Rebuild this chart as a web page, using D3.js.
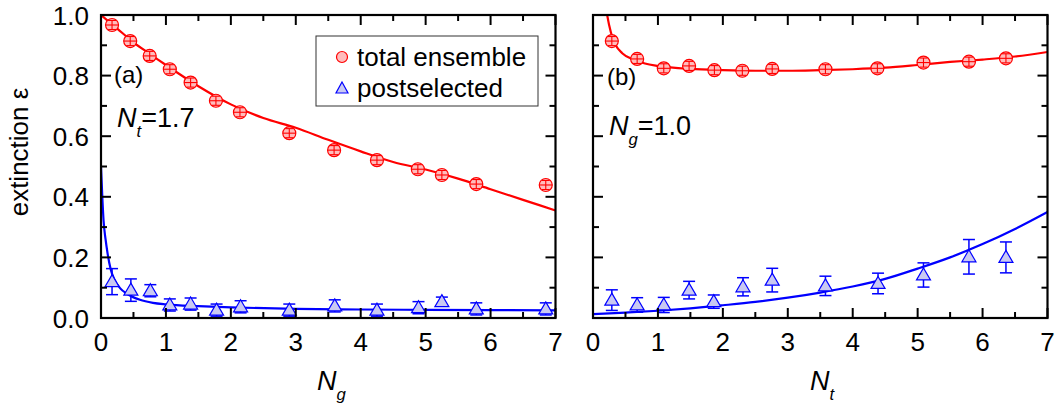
<!DOCTYPE html>
<html><head><meta charset="utf-8">
<script src="https://cdn.jsdelivr.net/npm/d3@7"></script>
<style>
body{margin:0;background:#fff;}
text{font-family:"Liberation Sans",Arial,Helvetica,sans-serif;}
</style></head>
<body><svg id="c" width="1057" height="403"></svg>
<script>
// ---------- Data ----------
// Panel (a): extinction vs N_g at N_t = 1.7
const ngRedA   = [0.17,0.45,0.75,1.06,1.38,1.77,2.14,2.90,3.59,4.25,4.88,5.25,5.78,6.85];
const epsRedA  = [0.967,0.914,0.865,0.821,0.777,0.717,0.679,0.610,0.554,0.521,0.491,0.472,0.442,0.439];
const errRedA  = [0.015,0.015,0.015,0.015,0.015,0.015,0.015,0.015,0.015,0.015,0.015,0.015,0.015,0.015];
const ngBlueA  = [0.17,0.46,0.76,1.06,1.38,1.78,2.15,2.90,3.60,4.25,4.89,5.25,5.78,6.85];
const epsBlueA = [0.120,0.092,0.090,0.043,0.046,0.026,0.037,0.026,0.040,0.026,0.034,0.054,0.030,0.030];
const errBlueA = [0.043,0.037,0.020,0.020,0.020,0.020,0.020,0.020,0.020,0.020,0.020,0.015,0.020,0.020];
const fitNgRedA  = [0,0.25,0.5,0.75,1,1.5,2,2.5,3,3.5,4,4.5,5,5.5,6,6.5,7];
const fitRedA    = [1.0,0.955,0.91,0.872,0.835,0.765,0.705,0.66,0.628,0.588,0.55,0.515,0.49,0.46,0.425,0.39,0.355];
const fitNgBlueA = [0,0.02,0.04,0.07,0.1,0.15,0.2,0.3,0.4,0.6,0.8,1,1.5,2,3,4,5,6,7];
const fitBlueA   = [0.5,0.4,0.32,0.26,0.215,0.16,0.13,0.097,0.08,0.06,0.05,0.045,0.039,0.035,0.03,0.028,0.027,0.026,0.025];

// Panel (b): extinction vs N_t at N_g = 1.0
const ntRedB   = [0.29,0.68,1.09,1.48,1.87,2.30,2.76,3.58,4.38,5.09,5.79,6.36];
const epsRedB  = [0.914,0.855,0.824,0.832,0.818,0.816,0.822,0.821,0.824,0.843,0.846,0.857];
const errRedB  = [0.015,0.015,0.015,0.015,0.015,0.015,0.015,0.015,0.015,0.015,0.015,0.015];
const ntBlueB  = [0.29,0.68,1.09,1.48,1.86,2.31,2.76,3.58,4.39,5.09,5.79,6.36];
const epsBlueB = [0.059,0.043,0.043,0.092,0.054,0.103,0.125,0.106,0.114,0.142,0.202,0.200];
const errBlueB = [0.034,0.024,0.025,0.029,0.022,0.030,0.039,0.032,0.034,0.040,0.057,0.051];
const fitNtRedB  = [0.21,0.25,0.3,0.35,0.45,0.6,0.8,1.0,1.5,2,2.5,3,3.5,4,4.5,5,5.5,6,6.5,7];
const fitRedB    = [1.01,0.965,0.925,0.9,0.874,0.855,0.84,0.832,0.822,0.818,0.816,0.816,0.818,0.821,0.826,0.835,0.845,0.853,0.863,0.878];
const fitNtBlueB = [0,0.5,1,1.5,2,2.5,3,3.5,4,4.5,5,5.5,6,6.5,7];
const fitBlueB   = [0.013,0.018,0.024,0.032,0.042,0.053,0.067,0.084,0.104,0.129,0.163,0.2,0.244,0.294,0.35];

const xTicks = [0,1,2,3,4,5,6,7];
const yTicks = [0.0,0.2,0.4,0.6,0.8,1.0];
const legendLabels = ["total ensemble","postselected"];

// ---------- Drawing ----------
const svg = d3.select("#c");
const RED="#ff0000", BLUE="#0000ff", REDFILL="#ffbcbc", BLUEFILL="#c9c9f2";
const yTop=15, yBot=318;
const y = d3.scaleLinear().domain([0,1]).range([yBot,yTop]);

function panel(id, x0, x1, showYLabels, d){
  const x = d3.scaleLinear().domain([0,7]).range([x0,x1]);
  const g = svg.append("g");
  g.append("clipPath").attr("id","clip"+id).append("rect")
    .attr("x",x0).attr("y",yTop).attr("width",x1-x0).attr("height",yBot-yTop);
  const plot = g.append("g").attr("clip-path","url(#clip"+id+")");
  const line = d3.line().x(p=>x(p[0])).y(p=>y(p[1])).curve(d3.curveMonotoneX);
  plot.append("path").datum(d3.zip(d.fxR,d.fyR)).attr("d",line)
    .attr("fill","none").attr("stroke",RED).attr("stroke-width",2.2);
  plot.append("path").datum(d3.zip(d.fxB,d.fyB)).attr("d",line)
    .attr("fill","none").attr("stroke",BLUE).attr("stroke-width",2.2);

  // blue triangles with error bars
  d.xB.forEach((v,i)=>{
    const cx=x(v), cy=y(d.yB[i]);
    const yt=y(d.yB[i]+d.eB[i]), yb=y(d.yB[i]-d.eB[i]);
    const eg = g.append("g").attr("stroke",BLUE).attr("stroke-width",1.5);
    eg.append("line").attr("x1",cx).attr("x2",cx).attr("y1",yt).attr("y2",yb);
    eg.append("line").attr("x1",cx-6).attr("x2",cx+6).attr("y1",yt).attr("y2",yt);
    eg.append("line").attr("x1",cx-6).attr("x2",cx+6).attr("y1",yb).attr("y2",yb);
    g.append("path").attr("d",`M${cx},${cy-7}L${cx+7},${cy+5}L${cx-7},${cy+5}Z`)
      .attr("fill",BLUEFILL).attr("stroke",BLUE).attr("stroke-width",1.2);
  });
  // red circles with error bars
  d.xR.forEach((v,i)=>{
    const cx=x(v), cy=y(d.yR[i]);
    const yt=y(d.yR[i]+d.eR[i]), yb=y(d.yR[i]-d.eR[i]);
    g.append("circle").attr("cx",cx).attr("cy",cy).attr("r",6.5)
      .attr("fill",REDFILL).attr("stroke",RED).attr("stroke-width",1.2);
    const eg = g.append("g").attr("stroke",RED).attr("stroke-width",1.1);
    eg.append("line").attr("x1",cx).attr("x2",cx).attr("y1",yt).attr("y2",yb);
    eg.append("line").attr("x1",cx-4).attr("x2",cx+4).attr("y1",yt).attr("y2",yt);
    eg.append("line").attr("x1",cx-4).attr("x2",cx+4).attr("y1",yb).attr("y2",yb);
    eg.append("line").attr("x1",cx-6.5).attr("x2",cx+6.5).attr("y1",cy).attr("y2",cy);
  });

  // axes (ticks inward on all four sides)
  const ax = g.append("g").attr("stroke","#000");
  const minorX = d3.range(0,7.01,0.5).filter(v=>v%1!==0);
  const minorY = d3.range(0.1,1,0.2);
  xTicks.forEach(v=>{
    ax.append("line").attr("x1",x(v)).attr("x2",x(v)).attr("y1",yBot).attr("y2",yBot-10).attr("stroke-width",2);
    ax.append("line").attr("x1",x(v)).attr("x2",x(v)).attr("y1",yTop).attr("y2",yTop+10).attr("stroke-width",2);
  });
  minorX.forEach(v=>{
    ax.append("line").attr("x1",x(v)).attr("x2",x(v)).attr("y1",yBot).attr("y2",yBot-6).attr("stroke-width",2);
    ax.append("line").attr("x1",x(v)).attr("x2",x(v)).attr("y1",yTop).attr("y2",yTop+6).attr("stroke-width",2);
  });
  yTicks.forEach(v=>{
    ax.append("line").attr("x1",x0).attr("x2",x0+10).attr("y1",y(v)).attr("y2",y(v)).attr("stroke-width",2);
    ax.append("line").attr("x1",x1).attr("x2",x1-10).attr("y1",y(v)).attr("y2",y(v)).attr("stroke-width",2);
  });
  minorY.forEach(v=>{
    ax.append("line").attr("x1",x0).attr("x2",x0+6).attr("y1",y(v)).attr("y2",y(v)).attr("stroke-width",2);
    ax.append("line").attr("x1",x1).attr("x2",x1-6).attr("y1",y(v)).attr("y2",y(v)).attr("stroke-width",2);
  });
  ax.append("rect").attr("x",x0).attr("y",yTop).attr("width",x1-x0).attr("height",yBot-yTop)
    .attr("fill","none").attr("stroke-width",2.2);

  xTicks.forEach(v=>{
    g.append("text").attr("x",x(v)).attr("y",351).attr("text-anchor","middle")
      .attr("font-size",26).text(d3.format("d")(v));
  });
  if(showYLabels){
    yTicks.forEach(v=>{
      g.append("text").attr("x",x0-12).attr("y",y(v)+9.5).attr("text-anchor","end")
        .attr("font-size",26).text(d3.format(".1f")(v));
    });
  }
  return x;
}

const xa = panel("a",101,555.5,true,{xR:ngRedA,yR:epsRedA,eR:errRedA,xB:ngBlueA,yB:epsBlueA,eB:errBlueA,
  fxR:fitNgRedA,fyR:fitRedA,fxB:fitNgBlueA,fyB:fitBlueA});
const xb = panel("b",593,1047.5,false,{xR:ntRedB,yR:epsRedB,eR:errRedB,xB:ntBlueB,yB:epsBlueB,eB:errBlueB,
  fxR:fitNtRedB,fyR:fitRedB,fxB:fitNtBlueB,fyB:fitBlueB});

// y axis title
svg.append("text").attr("transform","translate(28,152) rotate(-90)").attr("text-anchor","middle")
  .attr("font-size",26).text("extinction ε");

// x axis titles
function sub(x,yb,main,s,rest,size){
  const t = svg.append("text").attr("x",x).attr("y",yb).attr("font-size",size);
  t.append("tspan").attr("font-style","italic").text(main);
  t.append("tspan").attr("font-style","italic").attr("font-size",size*0.62).attr("dy",size*0.38).text(s);
  if(rest) t.append("tspan").attr("dy",-size*0.38).text(rest);
  return t;
}
sub(317,390,"N","g",null,27);
sub(810,390,"N","t",null,27);

// panel annotations
svg.append("text").attr("x",114).attr("y",83).attr("font-size",24).text("(a)");
svg.append("text").attr("x",607).attr("y",85).attr("font-size",24).text("(b)");
sub(117,127,"N","t","=1.7",27);
sub(609,135,"N","g","=1.0",27);

// legend
const lg = svg.append("g");
lg.append("rect").attr("x",316).attr("y",36).attr("width",222).attr("height",70)
  .attr("fill","#fff").attr("stroke","#333").attr("stroke-width",1);
lg.append("circle").attr("cx",342).attr("cy",57).attr("r",5.5).attr("fill",REDFILL).attr("stroke",RED).attr("stroke-width",1.2);
lg.append("path").attr("d","M342,82L348,93L336,93Z").attr("fill",BLUEFILL).attr("stroke",BLUE).attr("stroke-width",1.2);
lg.append("text").attr("x",357).attr("y",66).attr("font-size",26).text(legendLabels[0]);
lg.append("text").attr("x",357).attr("y",97).attr("font-size",26).text(legendLabels[1]);
</script></body></html>
